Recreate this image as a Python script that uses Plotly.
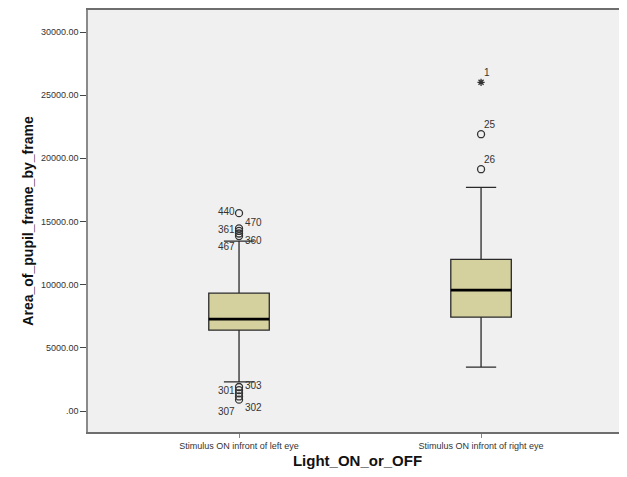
import plotly.graph_objects as go

# ---- data ----
categories = ["Stimulus ON infront of left eye", "Stimulus ON infront of right eye"]
q1 = [6400, 7430]
median = [7270, 9570]
q3 = [9330, 12000]
lower_whisker = [2300, 3480]
upper_whisker = [13450, 17700]

# outliers (circles)
left_out_vals = [15660, 14450, 14250, 14050, 13850, 1900, 1650, 1400, 1150, 900]
left_out_labels = ["440", "470", "361", "360", "467", "303", "301", "", "302", "307"]
right_out_vals = [21910, 19140]
right_out_labels = ["25", "26"]
# extreme (star)
right_ext_vals = [26020]
right_ext_labels = ["1"]

y_tickvals = [0, 5000, 10000, 15000, 20000, 25000, 30000]
y_ticktext = [".00", "5000.00", "10000.00", "15000.00", "20000.00", "25000.00", "30000.00"]

# ---- styles ----
box_w = 0.25
fill = "#D5D19E"
font_fam = "Arial, Liberation Sans, sans-serif"

fig = go.Figure()
xs = list(range(len(categories)))

fig.add_trace(go.Box(
    x=xs, q1=q1, median=median, q3=q3,
    lowerfence=lower_whisker, upperfence=upper_whisker,
    width=box_w, whiskerwidth=0.5,
    fillcolor=fill, line=dict(color="#2a2a2a", width=1.3),
    boxpoints=False, showlegend=False, hoverinfo="skip",
))

# thick median lines
for i, m in enumerate(median):
    fig.add_trace(go.Scatter(
        x=[xs[i] - box_w / 2, xs[i] + box_w / 2], y=[m, m],
        mode="lines", line=dict(color="black", width=2.6),
        showlegend=False, hoverinfo="skip"))

# outlier markers
fig.add_trace(go.Scatter(
    x=[xs[0]] * len(left_out_vals), y=left_out_vals, mode="markers",
    marker=dict(symbol="circle-open", size=7, color="#333", line=dict(width=1.3)),
    showlegend=False, hoverinfo="skip"))
fig.add_trace(go.Scatter(
    x=[xs[1]] * len(right_out_vals), y=right_out_vals, mode="markers",
    marker=dict(symbol="circle-open", size=7, color="#333", line=dict(width=1.3)),
    showlegend=False, hoverinfo="skip"))
fig.add_trace(go.Scatter(
    x=[xs[1]] * len(right_ext_vals), y=right_ext_vals, mode="markers",
    marker=dict(symbol="asterisk-open", size=6, color="#333", line=dict(width=1.3)),
    showlegend=False, hoverinfo="skip"))

# label offsets (px) for left outliers
left_offsets = [(-13, 2), (14, 6), (-13, 1), (14, -7), (-13, -10),
                (14, 2), (-13, 0), (0, 0), (14, -11), (-13, -12)]
for v, lab, (dx, dy) in zip(left_out_vals, left_out_labels, left_offsets):
    if lab:
        fig.add_annotation(x=xs[0], y=v, text=lab, showarrow=False,
                           xshift=dx, yshift=dy,
                           font=dict(family=font_fam, size=10, color="#333"))
for v, lab in zip(right_out_vals + right_ext_vals, right_out_labels + right_ext_labels):
    fig.add_annotation(x=xs[1], y=v, text=lab, showarrow=False,
                       xshift=9 if len(lab) > 1 else 6, yshift=10,
                       font=dict(family=font_fam, size=10, color="#333"))

fig.update_layout(
    width=619, height=469,
    margin=dict(l=80, r=0, t=2, b=45),
    paper_bgcolor="white", plot_bgcolor="#F0F0F0",
    font=dict(family=font_fam, color="#333"),
    xaxis=dict(
        range=[-0.624, 1.603], tickvals=xs, ticktext=categories,
        showgrid=False, zeroline=False,
        showline=True, linecolor="#6e6e6e", linewidth=2, mirror=True,
        ticks="outside", ticklen=4, tickcolor="#888",
        tickfont=dict(size=9, color="#333"),
        title=dict(text="<b>Light_ON_or_OFF</b>", font=dict(size=15, color="#111"), standoff=6),
    ),
    yaxis=dict(
        range=[-1662, 31741], tickvals=y_tickvals, ticktext=y_ticktext,
        showgrid=False, zeroline=False,
        showline=True, linecolor="#8a8a8a", linewidth=1.5,
        ticks="outside", ticklen=6, tickcolor="#444",
        tickfont=dict(size=9, color="#333"),
        title=dict(text="<b>Area_of_pupil_frame_by_frame</b>", font=dict(size=14, color="#111"), standoff=4),
    ),
)

fig.write_html("out.html")
